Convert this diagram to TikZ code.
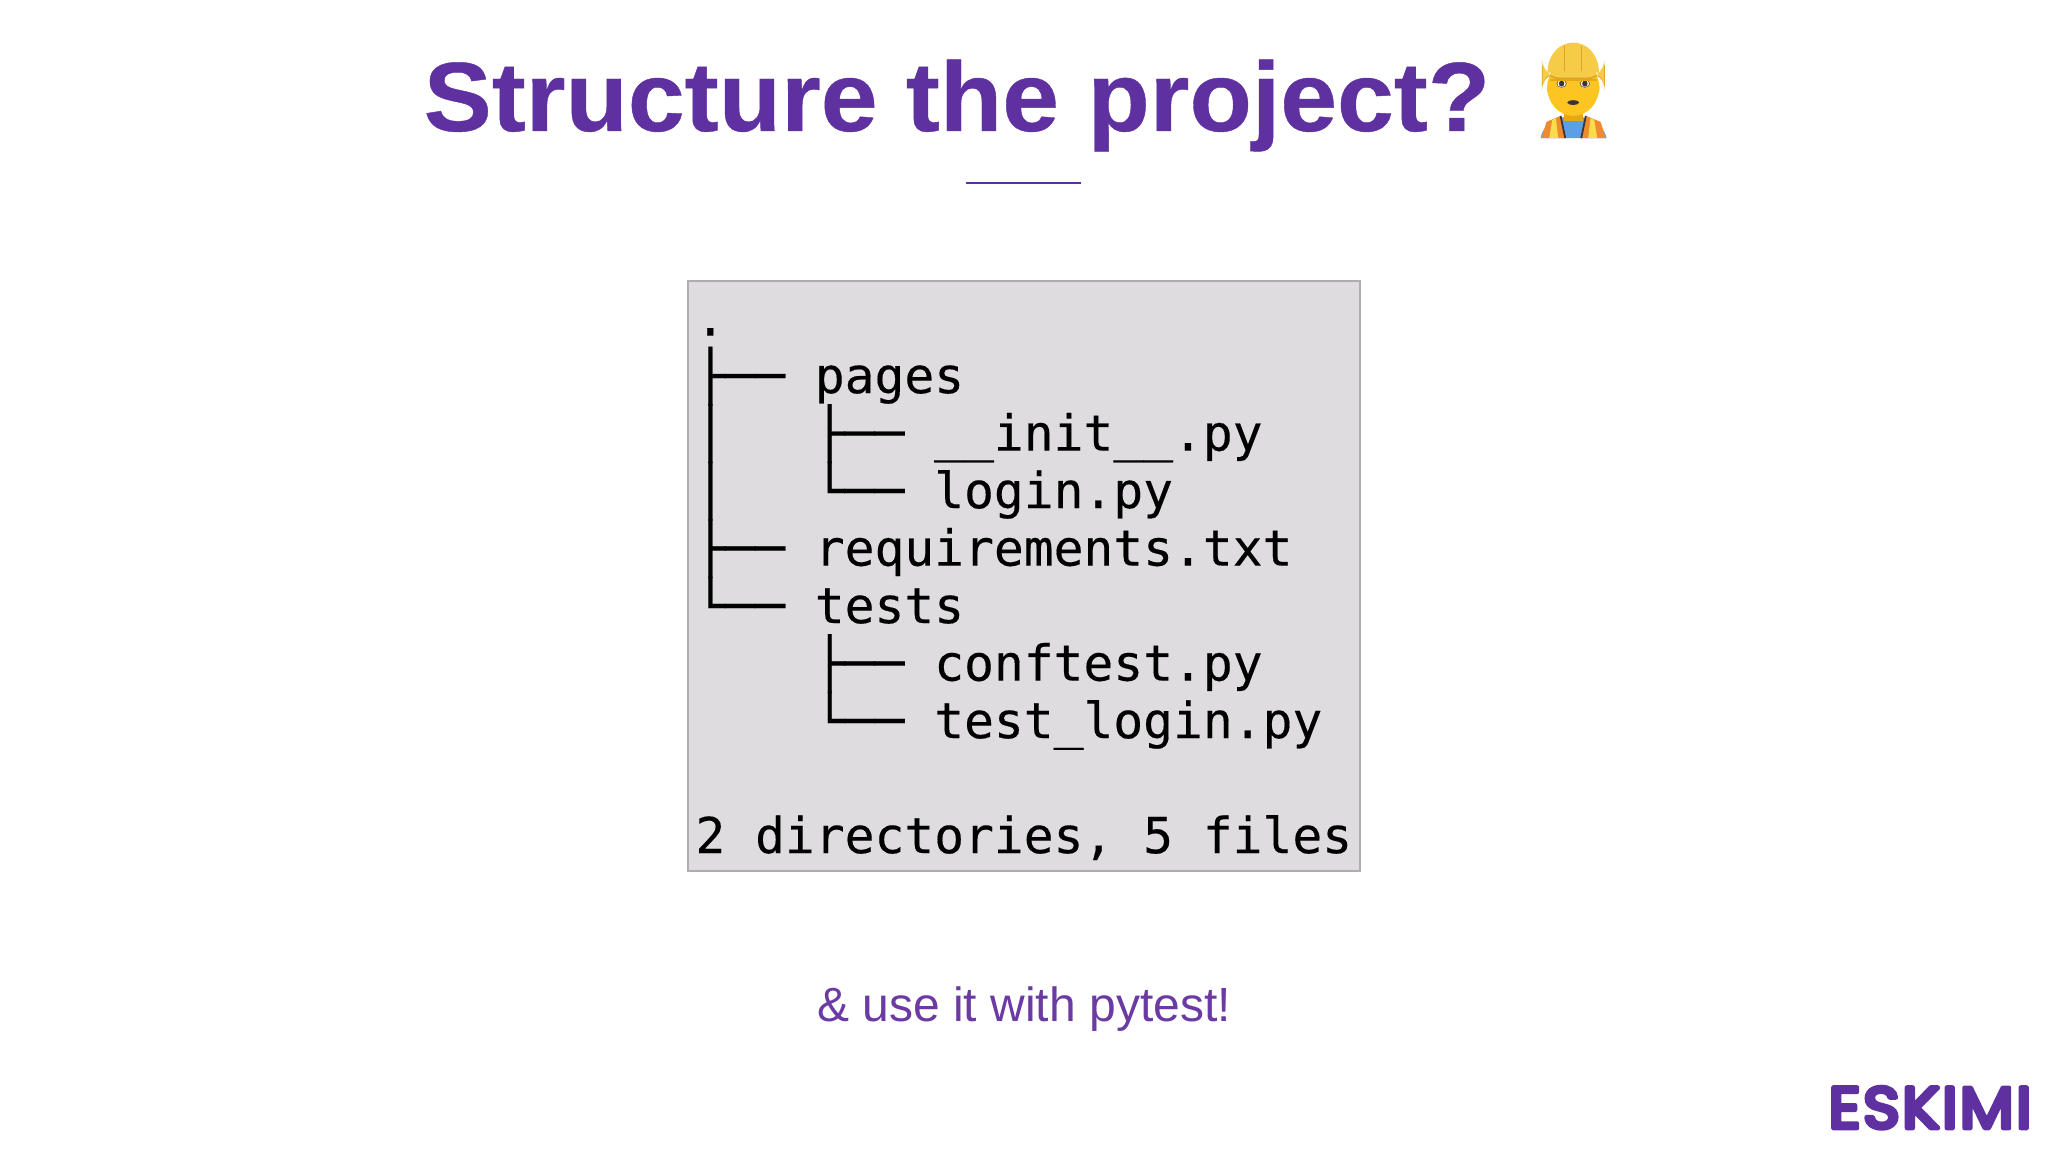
\documentclass[tikz,border=0pt]{standalone}
\usepackage{fontspec}
\setmainfont{Liberation Sans}
\setmonofont[FakeBold=0.3]{DejaVu Sans Mono}
\newfontfamily\titlefont[FakeStretch=1.037,FakeBold=0.4]{Liberation Sans Bold}
\newfontfamily\logofont[FakeBold=8,LetterSpace=4,FakeStretch=1.08]{Poppins}
\usetikzlibrary{matrix}
\definecolor{titlepurple}{HTML}{5F30A0}
\definecolor{notepurple}{HTML}{6C3AA3}
\definecolor{boxgray}{HTML}{DEDCDF}
\definecolor{boxline}{HTML}{ADADAD}
\definecolor{hatyellow}{HTML}{F6CB45}
\definecolor{hatshade}{HTML}{D9A52B}
\definecolor{skinyellow}{HTML}{FDC522}
\definecolor{skinshade}{HTML}{E9A80F}
\definecolor{shirtblue}{HTML}{5C9FE6}
\definecolor{vestorange}{HTML}{EE8B2E}
\definecolor{vestyellow}{HTML}{FBDD4B}
\definecolor{darkpart}{HTML}{3B3535}
\tikzset{
    treeline/.style={anchor=base west,inner sep=0pt,text height=12pt,text depth=4.35pt,
                     font=\fontsize{14.1}{16.35}\selectfont\ttfamily},
    label/.style={inner sep=0pt,anchor=base}
}
\begin{document}
\begin{tikzpicture}[x=0.01cm,y=-0.01cm]
    \useasboundingbox (0,0) rectangle (2048,1152);
    \fill[white] (0,0) rectangle (2048,1152);

    \node[label,text=titlepurple,font=\fontsize{28}{32}\titlefont] (title) at (957,131) {Structure the project?};
    \coordinate (ruleleft) at (966,183);
    \coordinate (ruleright) at (1081,183);
    \draw[titlepurple,line width=0.8pt] (ruleleft) -- (ruleright);

    \node[draw=boxline,fill=boxgray,line width=0.6pt,inner sep=0pt,
          minimum width=6.72cm,minimum height=5.9cm] (box) at (1024,576) {};

    \matrix [%
      matrix of nodes,
      nodes={treeline},
      row sep=0pt,
      anchor=north west
    ] (tree) at (683,281) {%
      . \\
      ├──~pages \\
      │~~~├──~\_\_init\_\_.py \\
      │~~~└──~login.py \\
      ├──~requirements.txt \\
      └──~tests \\
      ~~~~├──~conftest.py \\
      ~~~~└──~test\_login.py \\[16.35pt]
      2 directories, 5 files \\
    };

    \node[label,text=notepurple,font=\fontsize{13.65}{16}\selectfont] (note) at (1024,1021) {\& use it with pytest!};

    \begin{scope}[line join=round]
        \node[label,text=titlepurple,font=\fontsize{16.5}{20}\logofont] (logo) at (1930,1128) {ESKIMI};
    \end{scope}

    \begin{scope}[shift={(1500,30)},x=0.00333cm,y=-0.00333cm]
        \fill[shirtblue] (122,325) .. controls (130,280) and (170,262) .. (220,258)
            .. controls (270,262) and (310,280) .. (320,325) -- cycle;
        \fill[vestorange] (124,325) -- (140,276) -- (182,258) -- (196,325) -- cycle;
        \fill[vestorange] (318,325) -- (302,276) -- (258,258) -- (244,325) -- cycle;
        \fill[vestyellow] (148,325) -- (157,270) -- (168,265) -- (175,325) -- cycle;
        \fill[vestyellow] (292,325) -- (283,270) -- (272,265) -- (265,325) -- cycle;
        \draw[darkpart,line width=0.5pt] (182,258) -- (196,325) (258,258) -- (244,325);
        \fill[skinshade] (192,245) rectangle (248,272);
        \fill[skinyellow] (150,175) ellipse (9 and 20) (290,175) ellipse (9 and 20);
        \fill[skinyellow] (220,172) ellipse (78 and 86);
        \fill[darkpart] (185,161) ellipse (15 and 12) (255,161) ellipse (15 and 12);
        \fill[white!85!skinyellow] (185,161) ellipse (13 and 10.5) (255,161) ellipse (13 and 10.5);
        \fill[darkpart] (185,161) ellipse (8 and 9) (255,161) ellipse (8 and 9);
        \fill[darkpart] (220,218) ellipse (18 and 7);
        \fill[skinshade] (150,146) rectangle (290,152);
        \draw[darkpart!70!skinyellow,line width=0.5pt] (170,136) -- (200,136) (240,136) -- (270,136);
        \fill[hatyellow] (142,128) .. controls (145,70) and (180,38) .. (220,38)
            .. controls (260,38) and (295,70) .. (298,128) -- cycle;
        \fill[hatshade,rounded corners=5] (126,128) rectangle (315,148);
        \fill[hatyellow,rounded corners=5] (128,122) rectangle (313,143);
        \draw[hatshade,line width=0.3pt] (195,48) -- (195,122) (245,48) -- (245,122);
    \end{scope}
\end{tikzpicture}
\end{document}
